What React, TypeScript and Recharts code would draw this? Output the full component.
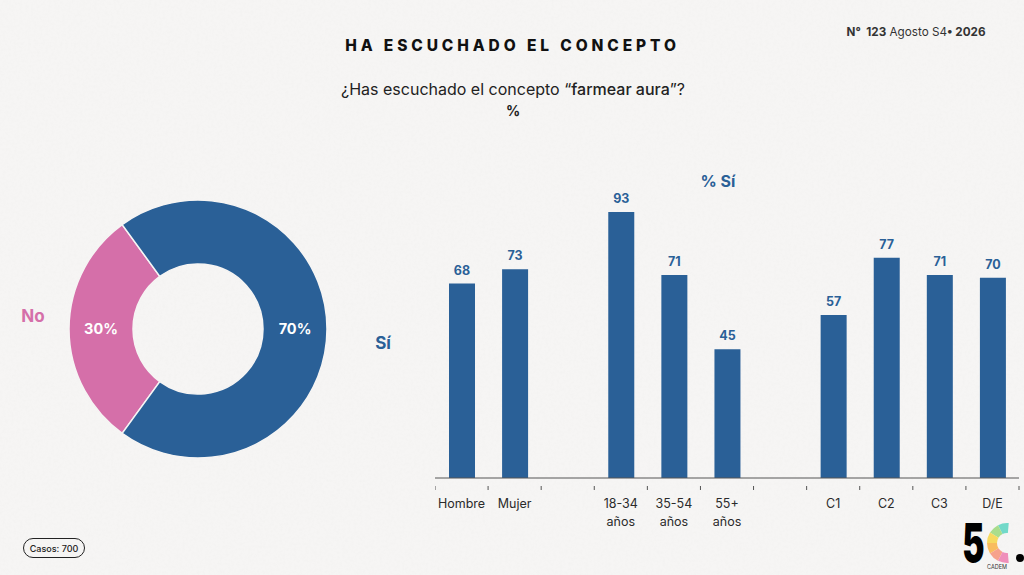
import React from "react";
import { Bar, BarChart, Cell, LabelList, Pie, PieChart, XAxis, YAxis } from "recharts";

const answers = ["No", "Sí"];
const answerValues = [30, 70];
const answerColors = ["#d56fa9", "#2a6097"];

const categories = ["Hombre", "Mujer", " ", "18-34|años", "35-54|años", "55+|años", "  ", "C1", "C2", "C3", "D/E"];
const siValues = [68, 73, null, 93, 71, 45, null, 57, 77, 71, 70];

const logoColors = ["#72d9c9", "#a9dd8c", "#f6d95f", "#f9bc5e", "#f6a28c", "#ef8fba"];

const pieData = answers.map((name, i) => ({ name, value: answerValues[i] }));
const barData = categories.map((name, i) => ({ name, value: siValues[i] }));

const BLUE = "#2a6097";
const PINK = "#d56fa9";
const FONT = "Inter, 'Open Sans', sans-serif";
const BG = "#f6f5f4";
const STEP = 584 / categories.length;

const noise =
  "url(\"data:image/svg+xml;utf8,<svg xmlns='http://www.w3.org/2000/svg' width='1024' height='575'><filter id='n'><feTurbulence type='fractalNoise' baseFrequency='0.35' numOctaves='3' seed='4'/><feColorMatrix values='0 0 0 0 0.6 0 0 0 0 0.6 0 0 0 0 0.58 0 0 0 0.5 -0.2'/></filter><rect width='1024' height='575' filter='url(%23n)' opacity='0.22'/></svg>\")";

function Txt({ x, y, size, weight = 400, color = "#222", spacing = 0, children }: any) {
  return (
    <div
      style={{
        position: "absolute",
        left: x,
        top: y,
        transform: "translate(-50%, -50%)",
        fontSize: size,
        fontWeight: weight,
        color,
        letterSpacing: spacing,
        whiteSpace: "nowrap",
      }}
    >
      {children}
    </div>
  );
}

function PieLabel({ cx, cy, midAngle, innerRadius, outerRadius, value }: any) {
  const r = (innerRadius + outerRadius) / 2;
  const x = cx + r * Math.cos((-midAngle * Math.PI) / 180);
  const y = cy + r * Math.sin((-midAngle * Math.PI) / 180);
  return (
    <text x={x} y={y + 1} fill="#fff" fontSize={14.5} fontWeight={700} fontFamily={FONT} textAnchor="middle" dominantBaseline="middle">
      {value}%
    </text>
  );
}

function CategoryTick({ x, y, payload, index }: any) {
  const lines = String(payload.value).trim().split("|");
  const left = x - STEP / 2;
  return (
    <g>
      <line x1={left} x2={left} y1={y} y2={y + 4} stroke="#555" />
      {index === categories.length - 1 && <line x1={left + STEP} x2={left + STEP} y1={y} y2={y + 4} stroke="#555" />}
      {lines.map((line, i) => (
        <text key={i} x={x} y={y + 19 + i * 18} fill="#2b2b2b" fontSize={12.5} fontFamily={FONT} textAnchor="middle" dominantBaseline="middle">
          {line}
        </text>
      ))}
    </g>
  );
}

// one ring segment of the logo's C, angles counted counterclockwise
function arc(cx: number, cy: number, r0: number, r1: number, a0: number, a1: number) {
  const p = (r: number, a: number) => `${cx + r * Math.cos((a * Math.PI) / 180)} ${cy - r * Math.sin((a * Math.PI) / 180)}`;
  return `M${p(r1, a0)} A${r1} ${r1} 0 0 0 ${p(r1, a1)} L${p(r0, a1)} A${r0} ${r0} 0 0 1 ${p(r0, a0)} Z`;
}

function Logo() {
  return (
    <svg width={104} height={75} style={{ position: "absolute", left: 920, top: 500 }} viewBox="920 500 104 75">
      <text transform="translate(973.5 562) scale(0.62 1)" fontSize={54} fontWeight={900} fontFamily={FONT} textAnchor="middle" fill="#000">
        5
      </text>
      {logoColors.map((c, i) => (
        <path key={c} d={arc(1007, 543, 10, 20, 85 + (i * 190) / 6, 85 + ((i + 1) * 190) / 6)} fill={c} />
      ))}
      <circle cx={1020} cy={558} r={4} fill="#000" />
      <text x={997} y={569} fontSize={5.5} fontFamily={FONT} textAnchor="middle" fill="#333">
        CADEM
      </text>
    </svg>
  );
}

export default function App() {
  return (
    <div
      style={{
        position: "fixed",
        left: 0,
        top: 0,
        width: 1024,
        height: 575,
        overflow: "hidden",
        backgroundColor: BG,
        backgroundImage: noise,
        fontFamily: FONT,
      }}
    >
      <Txt x={512.5} y={45} size={15.5} weight={800} color="#111" spacing={3.9}>
        HA ESCUCHADO EL CONCEPTO
      </Txt>
      <Txt x={513} y={89} size={16} color="#222">
        ¿Has escuchado el concepto “<span style={{ fontWeight: 500 }}>farmear aura</span>”?
      </Txt>
      <Txt x={513} y={110} size={14} weight={700}>
        %
      </Txt>
      <Txt x={916} y={32} size={11.7} color="#333">
        <b>N° &nbsp;123</b> Agosto S4<b>• 2026</b>
      </Txt>

      <Txt x={33} y={316} size={17} weight={700} color={PINK}>
        No
      </Txt>
      <Txt x={383} y={343} size={17} weight={700} color={BLUE}>
        Sí
      </Txt>
      <Txt x={718} y={181} size={16} weight={700} color={BLUE}>
        % Sí
      </Txt>

      <div style={{ position: "absolute", left: 60, top: 190 }}>
        <PieChart width={276} height={278} margin={{ top: 0, right: 0, bottom: 0, left: 0 }}>
          <Pie
            data={pieData}
            dataKey="value"
            nameKey="name"
            cx={138}
            cy={139}
            innerRadius={65}
            outerRadius={129}
            startAngle={126}
            endAngle={486}
            stroke={BG}
            strokeWidth={1.5}
            label={PieLabel}
            labelLine={false}
            isAnimationActive={false}
          >
            {answerColors.map((c) => (
              <Cell key={c} fill={c} />
            ))}
          </Pie>
        </PieChart>
      </div>

      <div style={{ position: "absolute", left: 435, top: 172 }}>
        <BarChart width={586} height={376} data={barData} margin={{ top: 20, right: 2, bottom: 0, left: 0 }} barSize={26}>
          <XAxis
            dataKey="name"
            interval={0}
            height={70}
            stroke="#555"
            tickLine={false}
            tick={CategoryTick}
          />
          <YAxis hide domain={[0, 100]} />
          <Bar dataKey="value" fill={BLUE} isAnimationActive={false}>
            <LabelList dataKey="value" position="top" fill={BLUE} fontSize={12.5} fontWeight={700} fontFamily={FONT} offset={9} />
          </Bar>
        </BarChart>
      </div>

      <div
        style={{
          position: "absolute",
          left: 23,
          top: 538,
          width: 60,
          height: 18,
          border: "1px solid #222",
          borderRadius: 10,
          display: "flex",
          alignItems: "center",
          justifyContent: "center",
          fontSize: 9,
          fontWeight: 500,
          color: "#222",
        }}
      >
        Casos: 700
      </div>
      <Logo />
    </div>
  );
}
